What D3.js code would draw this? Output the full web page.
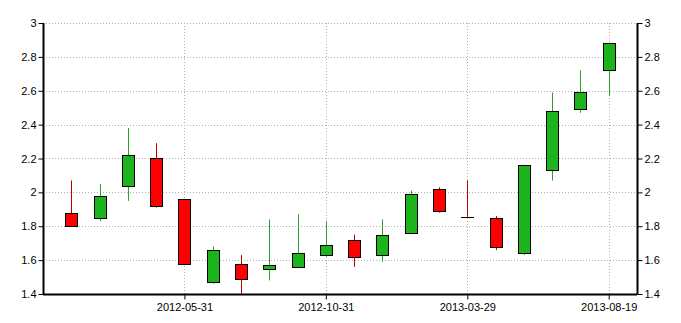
<!DOCTYPE html>
<html>
<head>
<meta charset="utf-8">
<script src="https://cdn.jsdelivr.net/npm/d3@7"></script>
<style>
body { margin: 0; background: #fff; }
</style>
</head>
<body>
<div id="chart"></div>
<script>
// monthly candles
var dates = ["2012-01-31", "2012-02-29", "2012-03-30", "2012-04-30", "2012-05-31",
    "2012-06-29", "2012-07-31", "2012-08-31", "2012-09-28", "2012-10-31",
    "2012-11-30", "2012-12-31", "2013-01-31", "2013-02-28", "2013-03-29",
    "2013-04-30", "2013-05-31", "2013-06-28", "2013-07-31", "2013-08-19"];
var open  = [1.88, 1.85, 2.04, 2.20, 1.96, 1.47, 1.58, 1.55, 1.56, 1.63, 1.72, 1.63, 1.76, 2.02, 1.857, 1.85, 1.64, 2.13, 2.49, 2.72];
var close = [1.80, 1.98, 2.22, 1.92, 1.58, 1.66, 1.49, 1.57, 1.64, 1.69, 1.62, 1.75, 1.99, 1.89, 1.855, 1.68, 2.16, 2.48, 2.59, 2.88];
var high  = [2.07, 2.05, 2.38, 2.29, 1.96, 1.68, 1.63, 1.84, 1.87, 1.83, 1.75, 1.84, 2.01, 2.03, 2.07, 1.86, 2.16, 2.59, 2.72, 2.88];
var low   = [1.80, 1.83, 1.95, 1.91, 1.58, 1.46, 1.40, 1.48, 1.56, 1.62, 1.56, 1.59, 1.76, 1.88, 1.855, 1.66, 1.63, 2.07, 2.47, 2.57];
var yTicks = [1.4, 1.6, 1.8, 2, 2.2, 2.4, 2.6, 2.8, 3];
var xTickDates = ["2012-05-31", "2012-10-31", "2013-03-29", "2013-08-19"];

var width = 681;
var height = 323;
var margin = {top: 23, right: 44, bottom: 29, left: 43};
var innerW = width - margin.left - margin.right;
var innerH = height - margin.top - margin.bottom;

var svg = d3.select("#chart")
    .append("svg")
    .attr("width", width)
    .attr("height", height)
    .style("font-family", "Arial, 'Liberation Sans', sans-serif");

var g = svg.append("g")
    .attr("transform", "translate(" + margin.left + "," + margin.top + ")");

var x = d3.scalePoint()
    .domain(dates)
    .range([0, innerW])
    .padding(1);

var y = d3.scaleLinear()
    .domain([1.4, 3])
    .range([innerH, 0]);

// grid
g.append("g")
    .selectAll("line")
    .data(yTicks)
    .enter().append("line")
    .attr("x1", 0)
    .attr("x2", innerW)
    .attr("y1", function (d) { return Math.round(y(d)) + 0.5; })
    .attr("y2", function (d) { return Math.round(y(d)) + 0.5; })
    .style("stroke", "#b0b0b0")
    .style("stroke-dasharray", "1,2");

g.append("g")
    .selectAll("line")
    .data(xTickDates)
    .enter().append("line")
    .attr("x1", function (d) { return Math.round(x(d)) + 0.5; })
    .attr("x2", function (d) { return Math.round(x(d)) + 0.5; })
    .attr("y1", 0)
    .attr("y2", innerH)
    .style("stroke", "#b0b0b0")
    .style("stroke-dasharray", "1,2");

// axes
var fmt = function (d) { return d3.format("")(+d.toFixed(1)); };

var leftAxis = g.append("g")
    .attr("transform", "translate(0.5,0)")
    .call(d3.axisLeft(y).tickValues(yTicks).tickFormat(fmt).tickSize(5).tickPadding(2));
var rightAxis = g.append("g")
    .attr("transform", "translate(" + (innerW + 0.5) + ",0)")
    .call(d3.axisRight(y).tickValues(yTicks).tickFormat(fmt).tickSize(5).tickPadding(2));
var bottomAxis = g.append("g")
    .attr("transform", "translate(0," + (innerH + 0.5) + ")")
    .call(d3.axisBottom(x).tickValues(xTickDates).tickSize(5).tickPadding(4));

[leftAxis, rightAxis, bottomAxis].forEach(function (a) {
    a.select(".domain").style("stroke", "#000").style("stroke-width", 2);
    a.selectAll(".tick line").style("stroke", "#000");
    a.selectAll("text").style("fill", "#000").style("font-size", "11px");
});
bottomAxis.select(".domain").attr("d", "M0,0H" + innerW);
leftAxis.select(".domain").attr("d", "M0," + (innerH + 0.5) + "V0");
rightAxis.select(".domain").attr("d", "M0," + (innerH + 0.5) + "V0");

// candles
var idx = d3.range(dates.length);
var bodyW = 12;
function isUp(i) { return close[i] >= open[i]; }
function bodyTop(i) { return Math.round(y(Math.max(open[i], close[i]))); }
function bodyBot(i) { return Math.round(y(Math.min(open[i], close[i]))); }

g.append("g")
    .selectAll("line")
    .data(idx)
    .enter().append("line")
    .attr("x1", function (i) { return Math.round(x(dates[i])) + 0.5; })
    .attr("x2", function (i) { return Math.round(x(dates[i])) + 0.5; })
    .attr("y1", function (i) { return y(high[i]); })
    .attr("y2", function (i) { return y(low[i]); })
    .style("stroke", function (i) { return isUp(i) ? "#2ca02c" : "#c00000"; });

var bodies = idx.filter(function (i) { return bodyBot(i) - bodyTop(i) > 0; });
var dojis = idx.filter(function (i) { return bodyBot(i) - bodyTop(i) <= 0; });

g.append("g")
    .selectAll("rect")
    .data(bodies)
    .enter().append("rect")
    .attr("x", function (i) { return Math.round(x(dates[i]) - bodyW / 2) + 0.5; })
    .attr("y", function (i) { return bodyTop(i) + 0.5; })
    .attr("width", bodyW)
    .attr("height", function (i) { return bodyBot(i) - bodyTop(i); })
    .style("fill", function (i) { return isUp(i) ? "#1db31d" : "#ff0000"; })
    .style("stroke", "#000")
    .style("stroke-width", 1);

// open == close: just a flat black bar
g.append("g")
    .selectAll("line")
    .data(dojis)
    .enter().append("line")
    .attr("x1", function (i) { return Math.round(x(dates[i]) - bodyW / 2); })
    .attr("x2", function (i) { return Math.round(x(dates[i]) + bodyW / 2) + 1; })
    .attr("y1", function (i) { return bodyTop(i) + 0.5; })
    .attr("y2", function (i) { return bodyTop(i) + 0.5; })
    .style("stroke", "#000");
</script>
</body>
</html>
